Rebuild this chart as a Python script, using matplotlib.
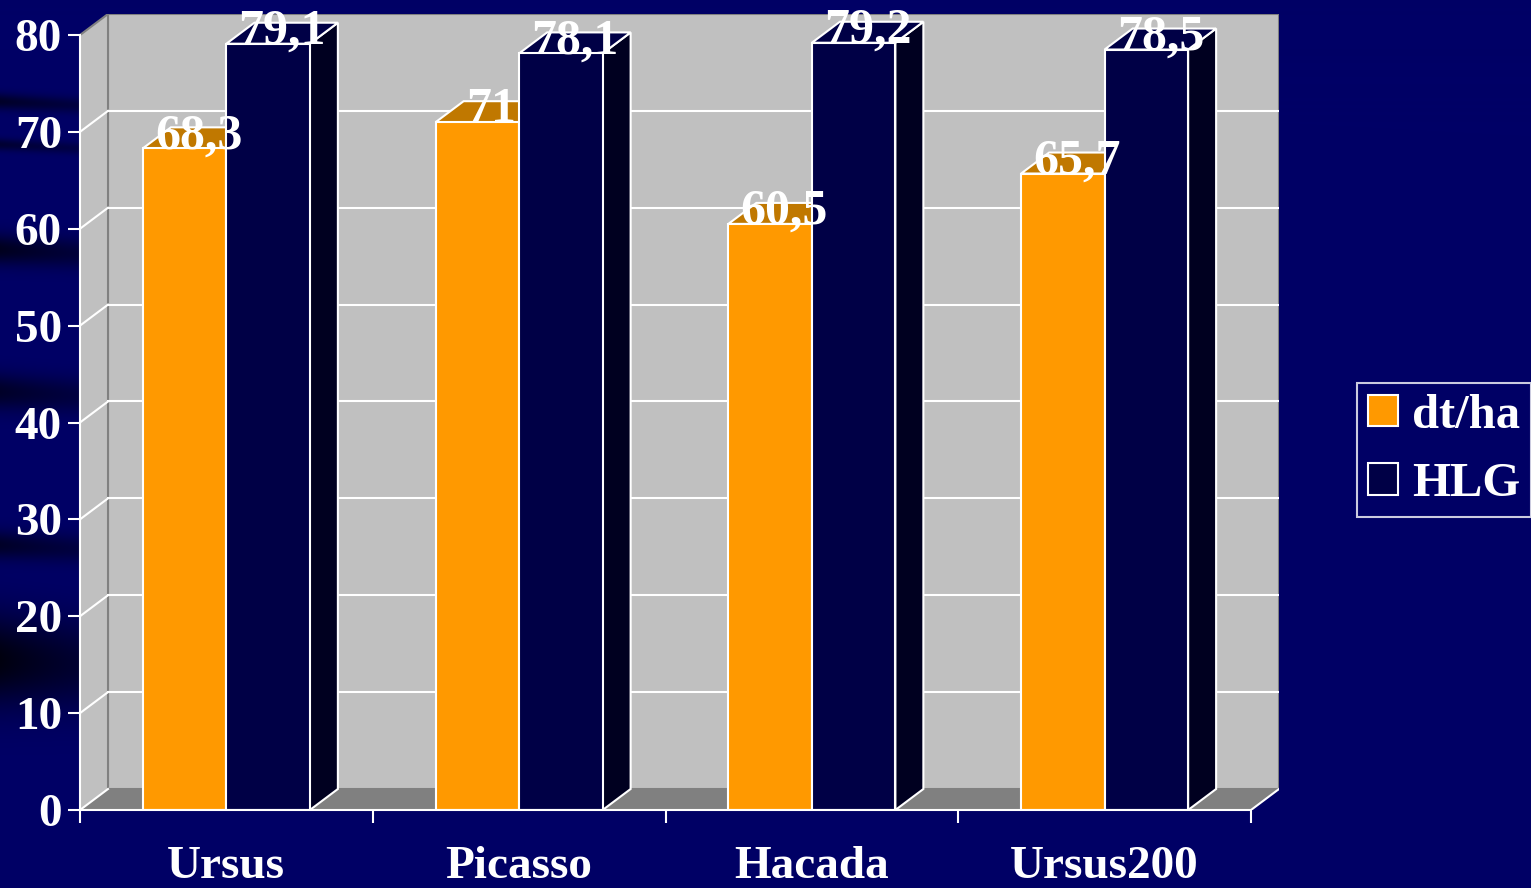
import numpy as np
import matplotlib.pyplot as plt
from matplotlib.patches import Polygon, Rectangle, Patch

plt.rcParams['font.family'] = ['Liberation Serif', 'DejaVu Serif']
plt.rcParams['font.weight'] = 'bold'

categories = ['Ursus', 'Picasso', 'Hacada', 'Ursus200']
dt_ha = [68.3, 71, 60.5, 65.7]
hlg = [79.1, 78.1, 79.2, 78.5]
series_names = ['dt/ha', 'HLG']
y_ticks = [0, 10, 20, 30, 40, 50, 60, 70, 80]

# colours: front, top, side
face_cols = ['#ff9900', '#000046']
top_cols = ['#c07800', '#000046']
side_cols = ['#995c00', '#000020']
navy = np.array([0, 0, 0x66]) / 255.

W, H = 1531, 888
fig = plt.figure(figsize=(W / 100, H / 100), dpi=100)

# background with dark streaks on the left
bg_ax = fig.add_axes([0, 0, 1, 1])
yy, xx = np.mgrid[0:H, 0:W]
dark = np.zeros((H, W))
for c, hw, s in [(102, 8, 0.6), (145, 6, 0.5), (250, 15, 0.7), (392, 18, 0.6),
                 (545, 14, 0.6), (660, 45, 0.85)]:
    dark += s * np.exp(-((yy - c - 0.05 * xx) / hw) ** 2) * np.exp(-xx / 160.)
dark = np.clip(dark, 0, 0.85)
bg = navy[None, None, :] * (1 - dark)[..., None]
bg_ax.imshow(bg, aspect='auto', extent=(0, W, H, 0))
bg_ax.axis('off')

# plot axes laid out in pixels of the reference
front_l, front_r, base, top80 = 80, 1251, 810, 35
ddx, ddy = 28, 21
ax = fig.add_axes([front_l / W, (H - base) / H, (front_r + ddx - front_l) / W,
                   (base - top80 + ddy) / H])
ax.patch.set_visible(False)
px_x = (front_r - front_l) / len(categories)
px_y = (base - top80) / 80
ax.set_xlim(-0.5, -0.5 + (front_r + ddx - front_l) / px_x)
ax.set_ylim(0, (base - top80 + ddy) / px_y)
dx, dy = ddx / px_x, ddy / px_y
x0, x1, ytop = -0.5, len(categories) - 0.5, 80

# walls and floor
ax.add_patch(Rectangle((x0 + dx, dy), x1 - x0, ytop, fc='#c0c0c0', ec='#808080', lw=1.5, zorder=1))
ax.add_patch(Polygon([(x0, 0), (x0 + dx, dy), (x0 + dx, ytop + dy), (x0, ytop)],
                     fc='#c0c0c0', ec='none', zorder=1))
ax.plot([x0, x0 + dx], [ytop, ytop + dy], color='#808080', lw=1.5, zorder=2)
ax.plot([x0 + dx, x0 + dx], [dy, ytop + dy], color='#808080', lw=1.5, zorder=2)
ax.add_patch(Polygon([(x0, 0), (x1, 0), (x1 + dx, dy), (x0 + dx, dy)],
                     fc='#808080', ec='none', zorder=1))
ax.plot([x1, x1 + dx], [0, dy], color='white', lw=1.5, zorder=2)
for v in y_ticks[:-1]:
    ax.plot([x0, x0 + dx], [v, v + dy], color='white', lw=1.5, zorder=2)
    if v > 0:
        ax.plot([x0 + dx, x1 + dx], [v + dy, v + dy], color='white', lw=1.5, zorder=2)

# bars
w = 83.5 / px_x
for i in range(len(categories)):
    for j, vals in enumerate([dt_ha, hlg]):
        h = vals[i]
        left = i - w + j * w
        z = 3 + j
        ax.add_patch(Polygon([(left + w, 0), (left + w + dx, dy), (left + w + dx, h + dy), (left + w, h)],
                             fc=side_cols[j], ec='white', lw=1.5, zorder=z))
        ax.add_patch(Polygon([(left, h), (left + w, h), (left + w + dx, h + dy), (left + dx, h + dy)],
                             fc=top_cols[j], ec='white', lw=1.5, zorder=z))
        ax.add_patch(Rectangle((left, 0), w, h, fc=face_cols[j], ec='white', lw=1.5, zorder=z))
        ax.text(left + w / 2 + dx / 2, h, f'{h:g}'.replace('.', ','), ha='center', va='baseline',
                color='white', fontsize=36, fontweight='bold', zorder=10)

# axes lines and ticks
for s in ['top', 'right']:
    ax.spines[s].set_visible(False)
ax.spines['left'].set_bounds(0, 80)
ax.spines['bottom'].set_bounds(x0, x1)
for s in ['left', 'bottom']:
    ax.spines[s].set_color('white')
    ax.spines[s].set_linewidth(1.5)
    ax.spines[s].set_zorder(6)
ax.set_yticks(y_ticks)
ax.tick_params(axis='y', colors='white', length=9, width=1.5, pad=4, labelsize=34)
ax.set_xticks(np.arange(len(categories) + 1) - 0.5)
ax.set_xticklabels([])
ax.tick_params(axis='x', which='major', colors='white', length=9, width=1.5)
ax.set_xticks(np.arange(len(categories)), minor=True)
ax.set_xticklabels(categories, minor=True)
ax.tick_params(axis='x', which='minor', colors='white', length=0, pad=26, labelsize=34)

# legend
handles = [Patch(fc=c, ec='white', lw=1.5) for c in face_cols]
leg = fig.legend(handles, series_names, loc='upper left', bbox_to_anchor=(1357 / W, 1 - 383 / H),
                 fontsize=35, handlelength=0.62, handleheight=0.62, handletextpad=0.3,
                 borderpad=0.22, labelspacing=0.5, borderaxespad=0, fancybox=False,
                 labelcolor='white')
leg.get_frame().set_facecolor('none')
leg.get_frame().set_edgecolor('white')
leg.get_frame().set_linewidth(1.5)

fig.savefig('out.png', dpi=100)
